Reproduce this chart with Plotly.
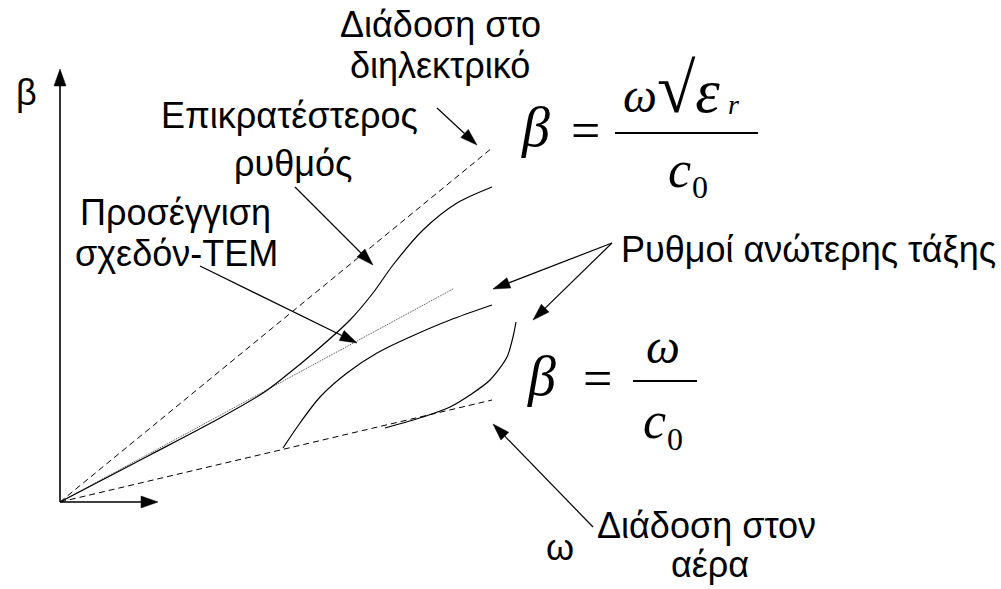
import numpy as np
import plotly.graph_objects as go

# Dispersion sketch: β against ω, drawing units measured from the origin
dielectric_w = [0, 432]
dielectric_b = [0, 354]
air_w = [0, 432]
air_b = [0, 102]
quasi_tem_w = [0, 393]
quasi_tem_b = [0, 213]
dominant_w = [0, 90, 160, 203, 223, 257, 290, 313, 333, 363, 397, 432]
dominant_b = [0, 47, 84, 109, 124, 152, 182, 209, 237, 272, 299, 315]
higher1_w = [223, 240, 260, 287, 317, 350, 390, 432]
higher1_b = [54, 79, 105, 129, 149, 165, 182, 197]
higher2_w = [325, 363, 390, 410, 430, 447, 453, 456]
higher2_b = [74, 85, 95, 107, 122, 145, 165, 180]

SANS = "Liberation Sans"
SERIF = "Liberation Serif"
LABEL_SIZE = 36

fig = go.Figure()

dashed = dict(color="black", width=1, dash="6px,4px")

fig.add_trace(go.Scatter(x=dielectric_w, y=dielectric_b, mode="lines", line=dashed))
fig.add_trace(go.Scatter(x=air_w, y=air_b, mode="lines", line=dashed))
fig.add_trace(go.Scatter(x=quasi_tem_w, y=quasi_tem_b, mode="lines",
                         line=dict(color="#444", width=1, dash="1px,1px")))
for w, b in [(dominant_w, dominant_b), (higher1_w, higher1_b), (higher2_w, higher2_b)]:
    fig.add_trace(go.Scatter(x=w, y=b, mode="lines",
                             line=dict(color="black", width=1.2, shape="spline", smoothing=0.8)))

shapes = []


def arrow(tail, tip, width=1.2, head_len=17, head_w=11):
    """Shaft plus a filled triangular head ending at `tip`."""
    t = np.array(tail, float)
    p = np.array(tip, float)
    d = p - t
    u = d / np.hypot(*d)
    n = np.array([-u[1], u[0]])
    base = p - u * head_len
    a = base + n * head_w / 2
    c = base - n * head_w / 2
    shapes.append(dict(type="line", x0=t[0], y0=t[1], x1=base[0], y1=base[1],
                       xref="x", yref="y", line=dict(color="black", width=width)))
    path = f"M{p[0]},{p[1]} L{a[0]},{a[1]} L{c[0]},{c[1]} Z"
    shapes.append(dict(type="path", path=path, xref="x", yref="y",
                       fillcolor="black", line=dict(color="black", width=0.5)))


# coordinate axes
arrow((0, 0), (0, 433), width=1.6, head_len=17, head_w=12)
arrow((0, 0), (98, 0), width=1.6, head_len=17, head_w=12)

# callout arrows
arrow((377, 394), (417, 357))   # dielectric
arrow((235, 315), (313, 237))   # dominant mode
arrow((140, 236), (297, 159))   # quasi-TEM
arrow((552, 259), (433, 213))   # higher modes
arrow((552, 259), (473, 182))
arrow((533, -25), (433, 78))    # air

# fraction bars
shapes.append(dict(type="line", x0=555, y0=369, x1=698, y1=369, xref="x", yref="y",
                   line=dict(color="black", width=2)))
shapes.append(dict(type="line", x0=573, y0=121, x1=637, y1=121, xref="x", yref="y",
                   line=dict(color="black", width=2)))

annotations = []


def label(text, x, baseline, size=LABEL_SIZE, family=SANS, k=0.347,
          box_size=None, xanchor="center"):
    box_size = box_size or size
    annotations.append(dict(text=text, x=x, y=baseline + k * box_size, xref="x", yref="y",
                            showarrow=False, xanchor=xanchor, yanchor="middle",
                            font=dict(family=family, size=size, color="black")))


label("Διάδοση στο", 380, 465)
label("διηλεκτρικό", 380, 424)
label("Επικρατέστερος", 229, 374)
label("ρυθμός", 233, 326)
label("Προσέγγιση", 115, 277)
label("σχεδόν-TEM", 116, 236)
label("Ρυθμοί ανώτερης τάξης", 748, 240)
label("Διάδοση στον", 646, -36)
label("αέρα", 650, -75)
label("ω", 500, -58)
label("β", -34, 397)


def glyph(text, x, baseline, size, **kw):
    label(text, x, baseline, size=size, family=SERIF, k=0.3375, **kw)


# β = ω√εr / c0
glyph("<i>β</i>", 475, 356, 56)
glyph("=", 525, 354, 52)
glyph("<i>ω</i><span style='font-size:70px'>√</span>"
      "<i><span style='font-size:62px'>ε</span></i>", 561, 390, 48,
      box_size=70, xanchor="left")
glyph("<i>r</i>", 673, 388, 28)
glyph("<i>c</i>", 619, 315, 52)
glyph("0", 640, 304, 32)

# β = ω / c0
glyph("<i>β</i>", 481, 107, 56)
glyph("=", 537, 106, 52)
glyph("<i>ω</i>", 603, 139, 48)
glyph("<i>c</i>", 594, 64, 52)
glyph("0", 615, 52, 32)

fig.update_layout(
    width=1001, height=589,
    margin=dict(l=0, r=0, t=0, b=0),
    paper_bgcolor="white", plot_bgcolor="white",
    showlegend=False,
    xaxis=dict(range=[-60, 941], visible=False, fixedrange=True),
    yaxis=dict(range=[-87, 502], visible=False, fixedrange=True),
    shapes=shapes,
    annotations=annotations,
    hovermode=False,
)

fig.write_html("out.html", config={"displayModeBar": False})
